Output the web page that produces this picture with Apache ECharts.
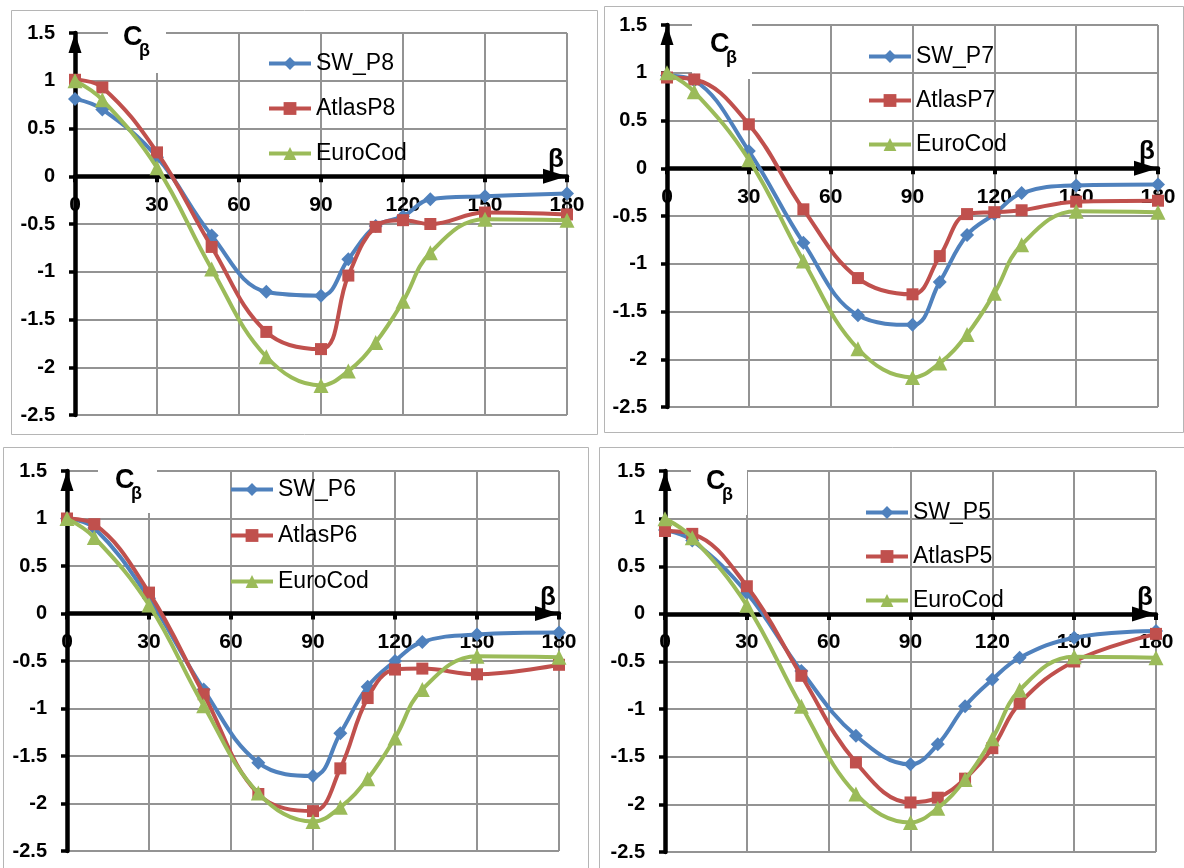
<!DOCTYPE html>
<html>
<head>
<meta charset="utf-8">
<script src="https://cdn.jsdelivr.net/npm/echarts@6/dist/echarts.min.js"></script>
<style>
  html, body { margin: 0; padding: 0; background: #fff; }
  #chart { width: 1184px; height: 868px; }
</style>
</head>
<body>
<div id="chart"></div>
<script>
// angle beta (deg) where each curve has a point
const beta = [0, 10, 30, 50, 70, 90, 100, 110, 120, 130, 150, 180];

// EuroCod reference curve, same in every panel
const euroCod = [1.0, 0.8, 0.09, -0.97, -1.89, -2.19, -2.04, -1.74, -1.31, -0.80, -0.45, -0.46];

const swP8 = [0.81, 0.70, 0.20, -0.62, -1.21, -1.25, -0.87, -0.52, -0.42, -0.24, -0.21, -0.18];
const atlasP8 = [1.01, 0.93, 0.25, -0.74, -1.63, -1.81, -1.04, -0.53, -0.46, -0.50, -0.38, -0.40];

const swP7 = [0.97, 0.92, 0.18, -0.78, -1.54, -1.64, -1.19, -0.70, -0.48, -0.26, -0.18, -0.17];
const atlasP7 = [0.95, 0.93, 0.46, -0.43, -1.15, -1.32, -0.92, -0.48, -0.46, -0.44, -0.35, -0.34];

const swP6 = [1.0, 0.90, 0.16, -0.80, -1.57, -1.71, -1.26, -0.77, -0.50, -0.30, -0.22, -0.20];
const atlasP6 = [1.0, 0.94, 0.22, -0.85, -1.90, -2.08, -1.63, -0.89, -0.59, -0.58, -0.64, -0.54];

const swP5 = [0.88, 0.77, 0.22, -0.60, -1.28, -1.58, -1.37, -0.97, -0.69, -0.46, -0.25, -0.18];
const atlasP5 = [0.87, 0.84, 0.29, -0.65, -1.56, -1.98, -1.93, -1.73, -1.41, -0.94, -0.50, -0.21];

const xTicks = [0, 30, 60, 90, 120, 150, 180];
const yTicks = [-2.5, -2, -1.5, -1, -0.5, 0, 0.5, 1, 1.5];

const panelNames = [
  ['SW_P8', 'AtlasP8', 'EuroCod'],
  ['SW_P7', 'AtlasP7', 'EuroCod'],
  ['SW_P6', 'AtlasP6', 'EuroCod'],
  ['SW_P5', 'AtlasP5', 'EuroCod']
];
const panelValues = [
  [swP8, atlasP8, euroCod],
  [swP7, atlasP7, euroCod],
  [swP6, atlasP6, euroCod],
  [swP5, atlasP5, euroCod]
];

// layout of the four panels (px)
const layouts = [
  { grid: [75, 33, 492, 382], border: [11, 10, 586, 424], legend: [262, 47, 22], box: [33, 91, -13, 40], c: [48, 5] },
  { grid: [667, 25, 491, 382], border: [604, 6, 579, 426], legend: [862, 40, 21], box: [25, 85, -13, 54], c: [43, 20] },
  { grid: [67, 471, 492, 380], border: [3, 447, 585, 430], legend: [224, 473, 23], box: [31, 90, -13, 42], c: [48, 10] },
  { grid: [665, 471, 491, 381], border: [599, 447, 600, 430], legend: [859, 496, 21], box: [26, 82, -13, 44], c: [41, 11] }
];

const FONT = '"Liberation Sans", Arial, sans-serif';
const colors = ['#4F81BD', '#C0504D', '#9BBB59'];
const markers = ['diamond', 'rect', 'triangle'];
const markerSizes = [14, 12, 15];

const yMin = yTicks[0];
const yMax = yTicks[yTicks.length - 1];

const grid = [], xAxis = [], yAxis = [], legend = [], series = [], graphic = [];

layouts.forEach((lay, i) => {
  const [gl, gt, gw, gh] = lay.grid;
  grid.push({ left: gl, top: gt, width: gw, height: gh, containLabel: false });

  // distance from the bottom of the grid up to the zero line
  const zeroLift = gh * (0 - yMin) / (yMax - yMin);

  xAxis.push({
    type: 'value',
    gridIndex: i,
    position: 'bottom',
    offset: -zeroLift,
    min: xTicks[0],
    max: xTicks[xTicks.length - 1],
    interval: xTicks[1] - xTicks[0],
    axisLine: {
      onZero: false,
      lineStyle: { color: '#000', width: 4.5 },
      symbol: ['none', 'triangle'],
      symbolSize: [15, 24],
      symbolOffset: [0, -12]
    },
    axisTick: { show: true, length: 6, lineStyle: { color: '#000', width: 4 } },
    axisLabel: { margin: 18, color: '#000', fontWeight: 'bold', fontSize: 21, fontFamily: FONT },
    splitLine: { show: true, lineStyle: { color: '#939393', width: 2 } }
  });

  yAxis.push({
    type: 'value',
    gridIndex: i,
    min: yMin,
    max: yMax,
    interval: yTicks[1] - yTicks[0],
    axisLine: {
      show: true,
      onZero: false,
      lineStyle: { color: '#000', width: 4.5 },
      symbol: ['none', 'triangle'],
      symbolSize: [13, 20],
      symbolOffset: [0, -10]
    },
    axisTick: { show: true, length: 6, lineStyle: { color: '#000', width: 3.5 } },
    axisLabel: { margin: 20, color: '#000', fontWeight: 'bold', fontSize: 20, fontFamily: FONT },
    splitLine: { show: true, lineStyle: { color: '#939393', width: 2 } }
  });

  legend.push({
    orient: 'vertical',
    left: lay.legend[0],
    top: lay.legend[1],
    itemGap: lay.legend[2],
    itemWidth: 42,
    itemHeight: 16,
    selectedMode: false,
    lineStyle: { width: 4 },
    data: panelNames[i],
    textStyle: { fontSize: 23, fontFamily: FONT, color: '#000', lineHeight: 23 }
  });

  panelNames[i].forEach((name, j) => {
    series.push({
      type: 'line',
      name: name,
      xAxisIndex: i,
      yAxisIndex: i,
      data: beta.map((b, k) => [b, panelValues[i][j][k]]),
      smooth: 0.4,
      symbol: markers[j],
      symbolSize: markerSizes[j],
      showSymbol: true,
      lineStyle: { width: 4, color: colors[j] },
      itemStyle: { color: colors[j] },
      z: 2 + j
    });
  });

  // panel frame
  const [bx, by, bw, bh] = lay.border;
  graphic.push({
    type: 'rect', z: 0, silent: true,
    shape: { x: bx + 0.5, y: by + 0.5, width: bw, height: bh },
    style: { fill: 'none', stroke: '#b5b5b5', lineWidth: 1 }
  });
  // white box behind the C_beta title
  const [x0, x1, y0, y1] = lay.box;
  graphic.push({
    type: 'rect', z: 1, silent: true,
    shape: { x: gl + x0, y: gt + y0, width: x1 - x0, height: y1 - y0 },
    style: { fill: '#fff' }
  });
  graphic.push({
    type: 'text', z: 5, silent: true,
    x: gl + lay.c[0], y: gt + lay.c[1],
    style: { text: 'C', font: 'bold 27px ' + FONT, fill: '#000', textAlign: 'left', textVerticalAlign: 'middle' }
  });
  graphic.push({
    type: 'text', z: 5, silent: true,
    x: gl + lay.c[0] + 16, y: gt + lay.c[1] + 13,
    style: { text: 'β', font: 'bold 18px ' + FONT, fill: '#000', textAlign: 'left', textVerticalAlign: 'middle' }
  });
  // beta label at the end of the x axis
  graphic.push({
    type: 'text', z: 5, silent: true,
    x: gl + gw - 11, y: gt + gh - zeroLift - 16,
    style: { text: 'β', font: 'bold 26px ' + FONT, fill: '#000', textAlign: 'center', textVerticalAlign: 'middle' }
  });
});

const chart = echarts.init(document.getElementById('chart'));
chart.setOption({
  animation: false,
  backgroundColor: '#fff',
  grid: grid,
  xAxis: xAxis,
  yAxis: yAxis,
  legend: legend,
  series: series,
  graphic: graphic
});
</script>
</body>
</html>
